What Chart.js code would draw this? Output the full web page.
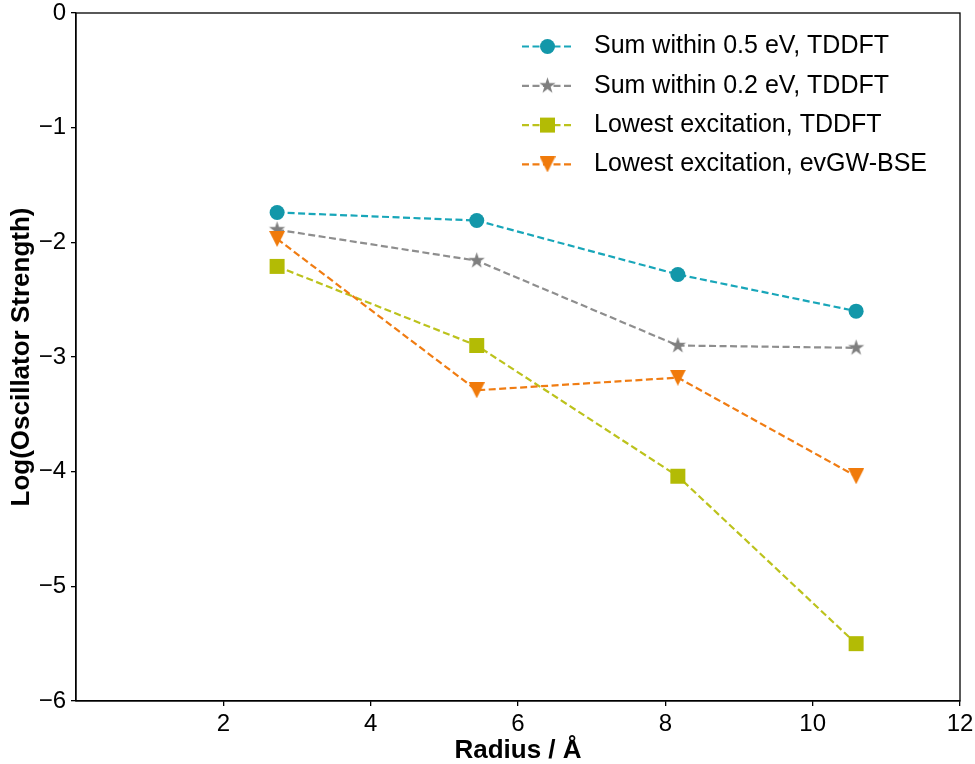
<!DOCTYPE html>
<html>
<head>
<meta charset="utf-8">
<script src="https://cdn.jsdelivr.net/npm/chart.js@4.4.1/dist/chart.umd.min.js"></script>
<style>
	html, body { margin: 0; padding: 0; background: #fff; }
	#wrap { width: 975px; height: 764px; }
</style>
</head>
<body>
<div id="wrap"><canvas id="grafico"></canvas></div>
<script>
// valores (raio em angstrom, log da forca de oscilador)
var raios = [2.73, 5.44, 8.17, 10.59];
var soma05 = [-1.74, -1.81, -2.28, -2.60];
var soma02 = [-1.89, -2.16, -2.90, -2.92];
var menorTddft = [-2.21, -2.90, -4.04, -5.50];
var menorGw = [-1.97, -3.29, -3.18, -4.04];

var rotulos = [
	'Sum within 0.5 eV, TDDFT',
	'Sum within 0.2 eV, TDDFT',
	'Lowest excitation, TDDFT',
	'Lowest excitation, evGW-BSE'
];
var ticksX = [2, 4, 6, 8, 10, 12];

var FONTE = '"Liberation Sans", Arial, sans-serif';

function pontos(valores) {
	return valores.map(function(v, i) {
		return { x: raios[i], y: v };
	});
}

function marcadorEstrela(cor, r) {
	var s = Math.ceil(r * 2) + 2;
	var c = document.createElement('canvas');
	c.width = s; c.height = s;
	var ctx = c.getContext('2d');
	ctx.fillStyle = cor;
	ctx.beginPath();
	for (var i = 0; i < 10; i++) {
		var raio = (i % 2 === 0) ? r : r * 0.382;
		var a = -Math.PI / 2 + i * Math.PI / 5;
		ctx.lineTo(s / 2 + raio * Math.cos(a), s / 2 + raio * Math.sin(a));
	}
	ctx.closePath();
	ctx.fill();
	return c;
}

function marcadorTriangulo(cor, lado) {
	var c = document.createElement('canvas');
	c.width = lado; c.height = lado;
	var ctx = c.getContext('2d');
	ctx.fillStyle = cor;
	ctx.beginPath();
	ctx.moveTo(0, 0);
	ctx.lineTo(lado, 0);
	ctx.lineTo(lado / 2, lado);
	ctx.closePath();
	ctx.fill();
	return c;
}

var estrela = marcadorEstrela('#7f7f7f', 8.5);
var triangulo = marcadorTriangulo('#f07a0a', 16);

function serie(rotulo, valores, corLinha, corPonto, estilo, raio, ordem) {
	return {
		label: rotulo,
		data: pontos(valores),
		borderColor: corLinha,
		borderWidth: 2.2,
		borderDash: [7, 3.5],
		pointStyle: estilo,
		pointRadius: raio,
		pointBackgroundColor: corPonto,
		pointBorderWidth: 0,
		fill: false,
		tension: 0,
		order: ordem
	};
}

var bordaPlugin = {
	id: 'borda',
	afterDraw: function(chart) {
		var ctx = chart.ctx, a = chart.chartArea;
		ctx.save();
		ctx.strokeStyle = '#000';
		ctx.lineWidth = 1.3;
		ctx.strokeRect(a.left, a.top, a.right - a.left, a.bottom - a.top);
		ctx.restore();
	}
};

var legendaPlugin = {
	id: 'legendaInterna',
	afterDraw: function(chart) {
		var ctx = chart.ctx, a = chart.chartArea;
		ctx.save();
		chart.data.datasets.forEach(function(ds, i) {
			var y = a.top + 33.5 + i * 39.3;
			var x0 = a.right - 438, x1 = a.right - 387;
			ctx.strokeStyle = ds.borderColor;
			ctx.lineWidth = ds.borderWidth;
			ctx.setLineDash(ds.borderDash);
			ctx.beginPath();
			ctx.moveTo(x0, y);
			ctx.lineTo(x1, y);
			ctx.stroke();
			ctx.setLineDash([]);
			ctx.fillStyle = ds.pointBackgroundColor;
			Chart.helpers.drawPoint(ctx, {
				pointStyle: ds.pointStyle,
				radius: ds.pointRadius,
				rotation: 0,
				borderWidth: 0
			}, (x0 + x1) / 2, y);
			ctx.fillStyle = '#000';
			ctx.font = '25px ' + FONTE;
			ctx.textBaseline = 'middle';
			ctx.textAlign = 'left';
			ctx.fillText(ds.label, a.right - 366, y);
		});
		ctx.restore();
	}
};

new Chart(document.getElementById('grafico'), {
	type: 'line',
	data: {
		datasets: [
			serie(rotulos[0], soma05, '#18a6b9', '#1397a9', 'circle', 7.5, 3),
			serie(rotulos[1], soma02, '#8e8e8e', '#7f7f7f', estrela, 8.5, 2),
			serie(rotulos[2], menorTddft, '#bcc21c', '#b3bb05', 'rect', 10.6, 1),
			serie(rotulos[3], menorGw, '#f07c12', '#f07a0a', triangulo, 8, 0)
		]
	},
	options: {
		responsive: true,
		maintainAspectRatio: false,
		animation: false,
		events: [],
		layout: { padding: { top: 13, right: 15, bottom: 0, left: 0 } },
		plugins: {
			legend: { display: false },
			tooltip: { enabled: false }
		},
		scales: {
			x: {
				type: 'linear',
				min: 0,
				max: 12,
				afterBuildTicks: function(scale) {
					scale.ticks = ticksX.map(function(v) { return { value: v }; });
				},
				afterFit: function(scale) {
					scale.height = 63;
					scale.paddingLeft = 0;
					scale.paddingRight = 0;
				},
				grid: { display: true, drawOnChartArea: false, drawTicks: true, tickLength: 5, color: '#000', lineWidth: 1.3 },
				border: { display: true, color: '#000', width: 1.3 },
				ticks: { color: '#000', padding: 4, maxRotation: 0, font: { family: FONTE, size: 24 } },
				title: {
					display: true,
					text: 'Radius / Å',
					color: '#000',
					padding: 0,
					font: { family: FONTE, size: 26, weight: 'bold', lineHeight: 1.0 }
				}
			},
			y: {
				type: 'linear',
				min: -6,
				max: 0,
				afterFit: function(scale) {
					scale.width = 76;
					scale.paddingTop = 0;
					scale.paddingBottom = 0;
				},
				grid: { display: true, drawOnChartArea: false, drawTicks: true, tickLength: 5, color: '#000', lineWidth: 1.3 },
				border: { display: true, color: '#000', width: 1.3 },
				ticks: {
					stepSize: 1,
					color: '#000',
					padding: 5,
					font: { family: FONTE, size: 24 },
					callback: function(v) { return v < 0 ? '\u2212' + Math.abs(v) : String(v); }
				},
				title: {
					display: true,
					text: 'Log(Oscillator Strength)',
					color: '#000',
					padding: { top: 6, bottom: 0 },
					font: { family: FONTE, size: 26, weight: 'bold', lineHeight: 1.2 }
				}
			}
		}
	},
	plugins: [bordaPlugin, legendaPlugin]
});
</script>
</body>
</html>
